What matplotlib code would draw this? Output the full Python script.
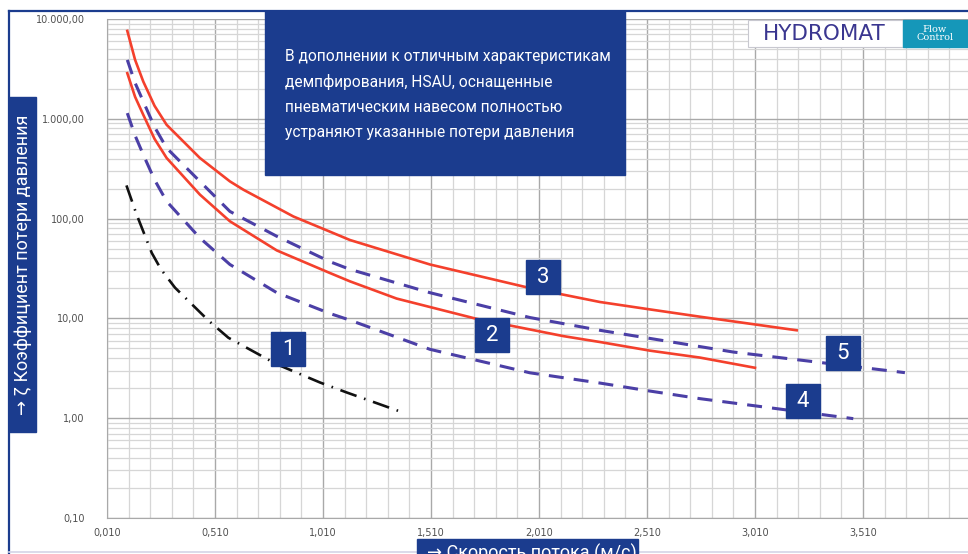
import matplotlib.pyplot as plt
import numpy as np
from matplotlib.patches import Rectangle
from matplotlib.ticker import MultipleLocator, NullFormatter

# curve data (velocity m/s, loss coefficient zeta)
x1 = [0.10, 0.147, 0.217, 0.26, 0.325, 0.48, 0.572, 0.641, 0.796, 0.996, 1.12, 1.39]
y1 = [215, 110, 45.4, 31, 20.3, 9.5, 6.4, 5.3, 3.47, 2.28, 1.81, 1.12]

x2 = [0.104, 0.14, 0.178, 0.23, 0.286, 0.44, 0.579, 0.796, 1.042, 1.135, 1.351, 1.721, 2.122, 2.292, 2.524, 2.755, 3.01]
y2 = [2864, 1660, 1096, 630, 405, 174, 94, 48, 28.5, 23.5, 15.8, 9.9, 6.65, 5.8, 4.75, 4.05, 3.2]

x3 = [0.104, 0.14, 0.178, 0.23, 0.286, 0.44, 0.579, 0.641, 0.873, 1.042, 1.135, 1.505, 1.953, 2.292, 2.524, 2.755, 3.203]
y3 = [7600, 3900, 2360, 1350, 871, 405, 236, 195, 105, 74, 61, 34.7, 20.5, 14.6, 12.3, 10.4, 7.6]

x4 = [0.104, 0.14, 0.178, 0.23, 0.286, 0.44, 0.579, 0.796, 1.042, 1.135, 1.505, 1.968, 2.292, 2.524, 2.755, 3.465]
y4 = [1140, 680, 437, 245, 149, 64, 34.7, 18.1, 11.2, 9.6, 4.9, 2.85, 2.25, 1.87, 1.57, 0.99]

x5 = [0.104, 0.14, 0.178, 0.23, 0.286, 0.44, 0.579, 0.796, 1.042, 1.135, 1.505, 1.968, 2.292, 2.524, 2.91, 3.704]
y5 = [3890, 2290, 1490, 830, 510, 236, 118, 66.5, 37, 31, 18.1, 10.2, 7.6, 6.3, 4.6, 2.86]

# numbered markers on the curves
label_names = ["1", "2", "3", "4", "5"]
label_x = [0.848, 1.792, 2.029, 3.232, 3.417]
label_y = [4.9, 6.8, 25.7, 1.48, 4.47]

x_ticks = [0.01, 0.51, 1.01, 1.51, 2.01, 2.51, 3.01, 3.51]
x_tick_labels = ["0,010", "0,510", "1,010", "1,510", "2,010", "2,510", "3,010", "3,510"]
y_ticks = [0.1, 1, 10, 100, 1000, 10000]
y_tick_labels = ["0,10", "1,00", "10,00", "100,00", "1.000,00", "10.000,00"]

note_lines = [
    "В дополнении к отличным характеристикам",
    "демпфирования, HSAU, оснащенные",
    "пневматическим навесом полностью",
    "устраняют указанные потери давления",
]
y_title = "→ ζ Коэффициент потери давления"
x_title = "→ Скорость потока (м/с)"

navy = "#1b3c8e"
red = "#f4402c"
violet = "#4b3fa6"
fam = ["Roboto", "DejaVu Sans"]

W, H = 968, 554
plt.rcParams['font.family'] = ['DejaVu Sans']
fig = plt.figure(figsize=(W / 100, H / 100), dpi=100)


def fx(px):
    return px / W


def fy(py):
    return 1 - py / H


def box(x0, y0, x1_, y1_, **kw):
    fig.patches.append(Rectangle((fx(x0), fy(y1_)), fx(x1_) - fx(x0), fy(y0) - fy(y1_),
                                 transform=fig.transFigure, **kw))


ax = fig.add_axes([fx(107), fy(518), fx(971) - fx(107), fy(19) - fy(518)])
ax.set_yscale("log")
ax.set_xlim(0.01, 4.01)
ax.set_ylim(0.1, 10000)

ax.plot(x1, y1, color="#111111", lw=1.9, ls=(0, (6.5, 3, 0.6, 3)), zorder=3)
ax.plot(x2, y2, color=red, lw=1.9, zorder=3)
ax.plot(x3, y3, color=red, lw=1.9, zorder=3)
ax.plot(x4, y4, color=violet, lw=2.2, ls=(0, (4.9, 3.3)), zorder=3)
ax.plot(x5, y5, color=violet, lw=2.2, ls=(0, (4.9, 3.3)), zorder=3)

for name, lx, ly in zip(label_names, label_x, label_y):
    ax.plot(lx, ly, marker="s", ms=24, color=navy, mec=navy, zorder=4)
    ax.text(lx, ly, name, color="white", fontsize=16, family=fam,
            ha="center", va="center", zorder=5)

# grid
ax.set_xticks(x_ticks)
ax.set_xticklabels(x_tick_labels)
ax.xaxis.set_minor_locator(MultipleLocator(0.1, offset=0.01))
ax.set_yticks(y_ticks)
ax.set_yticklabels(y_tick_labels)
ax.yaxis.set_minor_formatter(NullFormatter())
ax.grid(which="major", color="#a9a9a9", lw=1.0)
ax.grid(which="minor", color="#d6d6d6", lw=0.9)
ax.set_axisbelow(True)
ax.tick_params(which="both", length=0, labelsize=7, labelcolor="#505050")
ax.tick_params(axis="y", pad=16)
ax.tick_params(axis="x", pad=7)
for s in ["top", "right"]:
    ax.spines[s].set_visible(False)
for s in ["left", "bottom"]:
    ax.spines[s].set_color("#a9a9a9")

# frame
fig.add_artist(plt.Line2D([fx(9), 1], [fy(11), fy(11)], color=navy, lw=1.6, transform=fig.transFigure))
fig.add_artist(plt.Line2D([fx(9), fx(9)], [fy(11), 0], color=navy, lw=1.6, transform=fig.transFigure))
fig.add_artist(plt.Line2D([fx(9), 1], [fy(552), fy(552)], color="#d4d4e6", lw=1.2, transform=fig.transFigure))

# note box
box(265, 11, 625, 175, color=navy, zorder=2)
for i, line in enumerate(note_lines):
    fig.text(fx(285), fy(57 + 25.3 * i), line, color="white", fontsize=11.2, family=fam,
             ha="left", va="center", zorder=3)

# axis title boxes
box(9, 97, 36, 432, color=navy, zorder=2)
fig.text(fx(23), fy(415), y_title, color="white", fontsize=13, family=fam,
         rotation=90, ha="center", va="bottom", zorder=3)
box(417, 539, 638, 560, color=navy, zorder=2)
fig.text(fx(427), fy(559), x_title, color="white", fontsize=13, family=fam,
         ha="left", va="baseline", zorder=3)

# logo
box(748, 20, 903, 47, facecolor="white", edgecolor="#c8c8d0", lw=0.8, zorder=2)
fig.text(fx(824), fy(34), "HYDROMAT", color="#3a3690", fontsize=15.5, ha="center", va="center", zorder=3)
box(903, 20, 968, 47, color="#1597b9", zorder=2)
fig.text(fx(935), fy(33.5), "Flow\nControl", color="white", fontsize=7, family="DejaVu Serif",
         ha="center", va="center", linespacing=0.9, zorder=3)

fig.savefig("out.png", dpi=100)
